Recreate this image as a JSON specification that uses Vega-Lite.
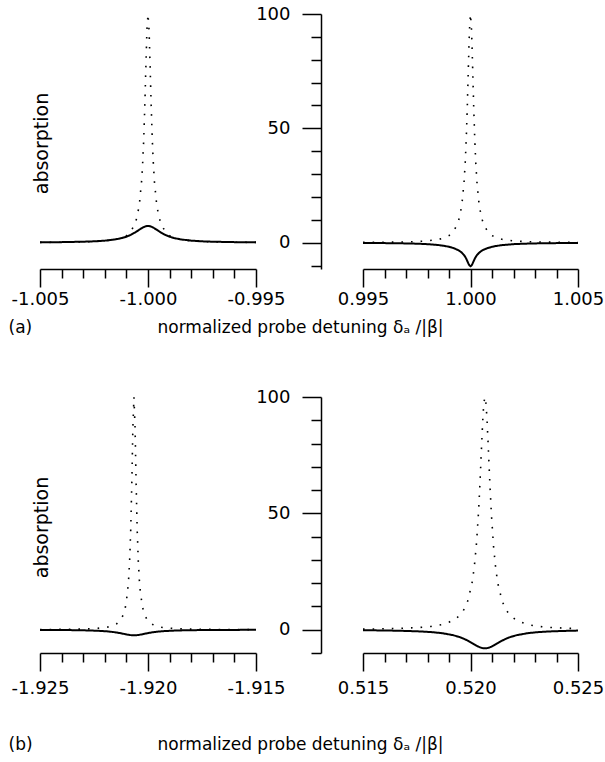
{
  "$schema": "https://vega.github.io/schema/vega-lite/v6.json",
  "background": "white",
  "padding": {"left": 8, "top": 5, "right": 5, "bottom": 5},
  "config": {
    "view": {"stroke": null},
    "axis": {"labelFont": "DejaVu Sans", "titleFont": "DejaVu Sans", "labelColor": "black", "titleColor": "black", "grid": false, "titleFontWeight": "normal", "labelFlush": false, "labelOverlap": false, "domainColor": "black", "tickColor": "black", "domainWidth": 1.5, "tickWidth": 1.5, "labelFontSize": 18, "titleFontSize": 17}
  },
  "datasets": {
    "a1": [
      {"x": -1.005, "dot": 0.13, "sol": 0.16}, {"x": -1.004, "dot": 0.2, "sol": 0.25}, {"x": -1.003, "dot": 0.36, "sol": 0.43},
      {"x": -1.0025, "dot": 0.5, "sol": 0.6}, {"x": -1.002, "dot": 0.8, "sol": 0.9}, {"x": -1.0015, "dot": 1.4, "sol": 1.46},
      {"x": -1.0012, "dot": 2.2, "sol": 2.05}, {"x": -1.001, "dot": 3.1, "sol": 2.63}, {"x": -1.0008, "dot": 4.8, "sol": 3.41},
      {"x": -1.0006, "dot": 8.3, "sol": 4.45}, {"x": -1.0005, "dot": 11.5, "sol": 5.06}, {"x": -1.0004, "dot": 16.8, "sol": 5.69},
      {"x": -1.0003, "dot": 26.5, "sol": 6.29}, {"x": -1.00025, "dot": 34.1, "sol": 6.57}, {"x": -1.0002, "dot": 44.7, "sol": 6.82},
      {"x": -1.00015, "dot": 59, "sol": 7.02}, {"x": -1.0001, "dot": 76.4, "sol": 7.17}, {"x": -1.00005, "dot": 92.8, "sol": 7.27},
      {"x": -1.0, "dot": 100, "sol": 7.3},
      {"x": -0.99995, "dot": 92.8, "sol": 7.27}, {"x": -0.9999, "dot": 76.4, "sol": 7.17}, {"x": -0.99985, "dot": 59, "sol": 7.02},
      {"x": -0.9998, "dot": 44.7, "sol": 6.82}, {"x": -0.99975, "dot": 34.1, "sol": 6.57}, {"x": -0.9997, "dot": 26.5, "sol": 6.29},
      {"x": -0.9996, "dot": 16.8, "sol": 5.69}, {"x": -0.9995, "dot": 11.5, "sol": 5.06}, {"x": -0.9994, "dot": 8.3, "sol": 4.45},
      {"x": -0.9992, "dot": 4.8, "sol": 3.41}, {"x": -0.999, "dot": 3.1, "sol": 2.63}, {"x": -0.9988, "dot": 2.2, "sol": 2.05},
      {"x": -0.9985, "dot": 1.4, "sol": 1.46}, {"x": -0.998, "dot": 0.8, "sol": 0.9}, {"x": -0.9975, "dot": 0.5, "sol": 0.6},
      {"x": -0.997, "dot": 0.36, "sol": 0.43}, {"x": -0.996, "dot": 0.2, "sol": 0.25}, {"x": -0.995, "dot": 0.13, "sol": 0.16}
    ],
    "a2": [
      {"x": 0.995, "dot": 0.13, "sol": -0.11}, {"x": 0.996, "dot": 0.2, "sol": -0.18}, {"x": 0.997, "dot": 0.36, "sol": -0.31},
      {"x": 0.9975, "dot": 0.5, "sol": -0.43}, {"x": 0.998, "dot": 0.8, "sol": -0.64}, {"x": 0.9985, "dot": 1.4, "sol": -1.02},
      {"x": 0.9988, "dot": 2.2, "sol": -1.42}, {"x": 0.999, "dot": 3.1, "sol": -1.8}, {"x": 0.9992, "dot": 4.8, "sol": -2.33},
      {"x": 0.9994, "dot": 8.3, "sol": -3.12}, {"x": 0.9995, "dot": 11.5, "sol": -3.66}, {"x": 0.9996, "dot": 16.8, "sol": -4.39},
      {"x": 0.9997, "dot": 26.5, "sol": -5.42}, {"x": 0.99975, "dot": 34.1, "sol": -6.12}, {"x": 0.9998, "dot": 44.7, "sol": -6.97},
      {"x": 0.99985, "dot": 59, "sol": -7.99}, {"x": 0.9999, "dot": 76.4, "sol": -9.06}, {"x": 0.99995, "dot": 92.8, "sol": -9.95},
      {"x": 1.0, "dot": 100, "sol": -10.3},
      {"x": 1.00005, "dot": 92.8, "sol": -9.95}, {"x": 1.0001, "dot": 76.4, "sol": -9.06}, {"x": 1.00015, "dot": 59, "sol": -7.99},
      {"x": 1.0002, "dot": 44.7, "sol": -6.97}, {"x": 1.00025, "dot": 34.1, "sol": -6.12}, {"x": 1.0003, "dot": 26.5, "sol": -5.42},
      {"x": 1.0004, "dot": 16.8, "sol": -4.39}, {"x": 1.0005, "dot": 11.5, "sol": -3.66}, {"x": 1.0006, "dot": 8.3, "sol": -3.12},
      {"x": 1.0008, "dot": 4.8, "sol": -2.33}, {"x": 1.001, "dot": 3.1, "sol": -1.8}, {"x": 1.0012, "dot": 2.2, "sol": -1.42},
      {"x": 1.0015, "dot": 1.4, "sol": -1.02}, {"x": 1.002, "dot": 0.8, "sol": -0.64}, {"x": 1.0025, "dot": 0.5, "sol": -0.43},
      {"x": 1.003, "dot": 0.36, "sol": -0.31}, {"x": 1.004, "dot": 0.2, "sol": -0.18}, {"x": 1.005, "dot": 0.13, "sol": -0.11}
    ],
    "b1": [
      {"x": -1.925, "dot": 0.09, "sol": -0.08}, {"x": -1.92465, "dot": 0.11, "sol": -0.09}, {"x": -1.92365, "dot": 0.19, "sol": -0.16},
      {"x": -1.92315, "dot": 0.27, "sol": -0.22}, {"x": -1.92265, "dot": 0.42, "sol": -0.33}, {"x": -1.92215, "dot": 0.75, "sol": -0.53},
      {"x": -1.92185, "dot": 1.16, "sol": -0.74}, {"x": -1.92165, "dot": 1.66, "sol": -0.94}, {"x": -1.92145, "dot": 2.57, "sol": -1.2},
      {"x": -1.92125, "dot": 4.48, "sol": -1.54}, {"x": -1.92115, "dot": 6.33, "sol": -1.73}, {"x": -1.92105, "dot": 9.55, "sol": -1.92},
      {"x": -1.92095, "dot": 15.8, "sol": -2.1}, {"x": -1.9209, "dot": 21.3, "sol": -2.19}, {"x": -1.92085, "dot": 29.7, "sol": -2.26},
      {"x": -1.9208, "dot": 42.9, "sol": -2.32}, {"x": -1.92075, "dot": 62.8, "sol": -2.36}, {"x": -1.9207, "dot": 87.1, "sol": -2.39},
      {"x": -1.92065, "dot": 100, "sol": -2.4},
      {"x": -1.9206, "dot": 87.1, "sol": -2.39}, {"x": -1.92055, "dot": 62.8, "sol": -2.36}, {"x": -1.9205, "dot": 42.9, "sol": -2.32},
      {"x": -1.92045, "dot": 29.7, "sol": -2.26}, {"x": -1.9204, "dot": 21.3, "sol": -2.19}, {"x": -1.92035, "dot": 15.8, "sol": -2.1},
      {"x": -1.92025, "dot": 9.55, "sol": -1.92}, {"x": -1.92015, "dot": 6.33, "sol": -1.73}, {"x": -1.92005, "dot": 4.48, "sol": -1.54},
      {"x": -1.91985, "dot": 2.57, "sol": -1.2}, {"x": -1.91965, "dot": 1.66, "sol": -0.94}, {"x": -1.91945, "dot": 1.16, "sol": -0.74},
      {"x": -1.91915, "dot": 0.75, "sol": -0.53}, {"x": -1.91865, "dot": 0.42, "sol": -0.33}, {"x": -1.91815, "dot": 0.27, "sol": -0.22},
      {"x": -1.91765, "dot": 0.19, "sol": -0.16}, {"x": -1.91665, "dot": 0.11, "sol": -0.09}, {"x": -1.91565, "dot": 0.07, "sol": -0.06},
      {"x": -1.915, "dot": 0.05, "sol": -0.05}
    ],
    "b2": [
      {"x": 0.515, "dot": 0.28, "sol": -0.22}, {"x": 0.51567, "dot": 0.36, "sol": -0.28}, {"x": 0.51667, "dot": 0.56, "sol": -0.43},
      {"x": 0.51767, "dot": 0.99, "sol": -0.73}, {"x": 0.51817, "dot": 1.42, "sol": -1.01}, {"x": 0.51867, "dot": 2.2, "sol": -1.47},
      {"x": 0.51917, "dot": 3.85, "sol": -2.29}, {"x": 0.51947, "dot": 5.88, "sol": -3.08}, {"x": 0.51967, "dot": 8.26, "sol": -3.8},
      {"x": 0.51987, "dot": 12.3, "sol": -4.68}, {"x": 0.52007, "dot": 20, "sol": -5.72}, {"x": 0.52017, "dot": 26.5, "sol": -6.26},
      {"x": 0.52027, "dot": 36, "sol": -6.8}, {"x": 0.52037, "dot": 50, "sol": -7.27}, {"x": 0.52042, "dot": 59, "sol": -7.48},
      {"x": 0.52047, "dot": 69.2, "sol": -7.66}, {"x": 0.52052, "dot": 80, "sol": -7.81}, {"x": 0.52057, "dot": 90, "sol": -7.91},
      {"x": 0.52062, "dot": 97.3, "sol": -7.98}, {"x": 0.52067, "dot": 100, "sol": -8},
      {"x": 0.52072, "dot": 97.3, "sol": -7.98}, {"x": 0.52077, "dot": 90, "sol": -7.91}, {"x": 0.52082, "dot": 80, "sol": -7.81},
      {"x": 0.52087, "dot": 69.2, "sol": -7.66}, {"x": 0.52092, "dot": 59, "sol": -7.48}, {"x": 0.52097, "dot": 50, "sol": -7.27},
      {"x": 0.52107, "dot": 36, "sol": -6.8}, {"x": 0.52117, "dot": 26.5, "sol": -6.26}, {"x": 0.52127, "dot": 20, "sol": -5.72},
      {"x": 0.52147, "dot": 12.3, "sol": -4.68}, {"x": 0.52167, "dot": 8.26, "sol": -3.8}, {"x": 0.52187, "dot": 5.88, "sol": -3.08},
      {"x": 0.52217, "dot": 3.85, "sol": -2.29}, {"x": 0.52267, "dot": 2.2, "sol": -1.47}, {"x": 0.52317, "dot": 1.42, "sol": -1.01},
      {"x": 0.52367, "dot": 0.99, "sol": -0.73}, {"x": 0.52467, "dot": 0.56, "sol": -0.43}, {"x": 0.525, "dot": 0.48, "sol": -0.37}
    ]
  },
  "vconcat": [
    {
      "hconcat": [
        {
          "width": 216, "height": 255,
          "data": {"name": "a1"},
          "transform": [{"fold": ["dot", "sol"], "as": ["series", "v"]}],
          "mark": {"type": "line", "color": "black"},
          "encoding": {
            "x": {"field": "x", "type": "quantitative", "scale": {"domain": [-1.005, -0.995], "nice": false, "zero": false},
              "axis": {"values": [-1.005, -1.004, -1.003, -1.002, -1.001, -1.0, -0.999, -0.998, -0.997, -0.996, -0.995],
                "tickSize": {"condition": {"test": "abs(round(datum.value*1000)) % 5 === 0", "value": 18}, "value": 9},
                "labelExpr": "abs(round(datum.value*1000)) % 5 === 0 ? (datum.value < 0 ? '-' : '') + format(abs(datum.value), '.3f') : ''",
                "labelPadding": 3, "title": "(a)", "titleX": -32, "titleY": 58, "titleAlign": "left", "titleBaseline": "middle", "titleAngle": 0}},
            "y": {"field": "v", "type": "quantitative", "scale": {"domain": [-11.5, 100], "nice": false, "zero": false},
              "axis": {"domain": false, "ticks": false, "labels": false, "title": "absorption", "titleX": 1, "titleY": 129, "titleAlign": "center", "titleBaseline": "middle", "titleAngle": -90, "titleFontSize": 19}},
            "strokeDash": {"field": "series", "type": "nominal", "scale": {"domain": ["dot", "sol"], "range": [[1.6, 8], [1, 0]]}, "legend": null},
            "strokeWidth": {"field": "series", "type": "ordinal", "scale": {"domain": ["dot", "sol"], "range": [1.6, 2]}, "legend": null}
          }
        },
        {
          "width": 215, "height": 255,
          "data": {"name": "a2"},
          "transform": [{"fold": ["dot", "sol"], "as": ["series", "v"]}],
          "mark": {"type": "line", "color": "black"},
          "encoding": {
            "x": {"field": "x", "type": "quantitative", "scale": {"domain": [0.995, 1.005], "nice": false, "zero": false},
              "axis": {"values": [0.995, 0.996, 0.997, 0.998, 0.999, 1.0, 1.001, 1.002, 1.003, 1.004, 1.005],
                "tickSize": {"condition": {"test": "abs(round(datum.value*1000)) % 5 === 0", "value": 18}, "value": 9},
                "labelExpr": "abs(round(datum.value*1000)) % 5 === 0 ? (datum.value < 0 ? '-' : '') + format(abs(datum.value), '.3f') : ''",
                "labelPadding": 3, "title": "normalized probe detuning  δₐ /|β|", "titleX": -206, "titleY": 58, "titleAlign": "left", "titleBaseline": "middle", "titleAngle": 0}},
            "y": {"field": "v", "type": "quantitative", "scale": {"domain": [-11.5, 100], "nice": false, "zero": false},
              "axis": {"values": [-10, 0, 10, 20, 30, 40, 50, 60, 70, 80, 90, 100], "offset": 42,
                "tickSize": {"condition": {"test": "datum.value % 50 === 0", "value": 19}, "value": 10},
                "labelExpr": "datum.value % 50 === 0 ? datum.label : ''", "labelPadding": 12, "title": null}},
            "strokeDash": {"field": "series", "type": "nominal", "scale": {"domain": ["dot", "sol"], "range": [[1.6, 8], [1, 0]]}, "legend": null},
            "strokeWidth": {"field": "series", "type": "ordinal", "scale": {"domain": ["dot", "sol"], "range": [1.6, 2]}, "legend": null}
          }
        }
      ],
      "spacing": 107,
      "bounds": "flush",
      "resolve": {"scale": {"x": "independent", "y": "independent"}}
    },
    {
      "hconcat": [
        {
          "width": 216, "height": 256,
          "data": {"name": "b1"},
          "transform": [{"fold": ["dot", "sol"], "as": ["series", "v"]}],
          "mark": {"type": "line", "color": "black"},
          "encoding": {
            "x": {"field": "x", "type": "quantitative", "scale": {"domain": [-1.925, -1.915], "nice": false, "zero": false},
              "axis": {"values": [-1.925, -1.924, -1.923, -1.922, -1.921, -1.92, -1.919, -1.918, -1.917, -1.916, -1.915],
                "tickSize": {"condition": {"test": "abs(round(datum.value*1000)) % 5 === 0", "value": 18}, "value": 9},
                "labelExpr": "abs(round(datum.value*1000)) % 5 === 0 ? (datum.value < 0 ? '-' : '') + format(abs(datum.value), '.3f') : ''",
                "labelPadding": 8, "title": "(b)", "titleX": -32, "titleY": 91, "titleAlign": "left", "titleBaseline": "middle", "titleAngle": 0}},
            "y": {"field": "v", "type": "quantitative", "scale": {"domain": [-10, 100], "nice": false, "zero": false},
              "axis": {"domain": false, "ticks": false, "labels": false, "title": "absorption", "titleX": 1, "titleY": 130, "titleAlign": "center", "titleBaseline": "middle", "titleAngle": -90, "titleFontSize": 19}},
            "strokeDash": {"field": "series", "type": "nominal", "scale": {"domain": ["dot", "sol"], "range": [[1.6, 8], [1, 0]]}, "legend": null},
            "strokeWidth": {"field": "series", "type": "ordinal", "scale": {"domain": ["dot", "sol"], "range": [1.6, 2]}, "legend": null}
          }
        },
        {
          "width": 215, "height": 256,
          "data": {"name": "b2"},
          "transform": [{"fold": ["dot", "sol"], "as": ["series", "v"]}],
          "mark": {"type": "line", "color": "black"},
          "encoding": {
            "x": {"field": "x", "type": "quantitative", "scale": {"domain": [0.515, 0.525], "nice": false, "zero": false},
              "axis": {"values": [0.515, 0.516, 0.517, 0.518, 0.519, 0.52, 0.521, 0.522, 0.523, 0.524, 0.525],
                "tickSize": {"condition": {"test": "abs(round(datum.value*1000)) % 5 === 0", "value": 18}, "value": 9},
                "labelExpr": "abs(round(datum.value*1000)) % 5 === 0 ? (datum.value < 0 ? '-' : '') + format(abs(datum.value), '.3f') : ''",
                "labelPadding": 8, "title": "normalized probe detuning  δₐ /|β|", "titleX": -206, "titleY": 91, "titleAlign": "left", "titleBaseline": "middle", "titleAngle": 0}},
            "y": {"field": "v", "type": "quantitative", "scale": {"domain": [-10, 100], "nice": false, "zero": false},
              "axis": {"values": [-10, 0, 10, 20, 30, 40, 50, 60, 70, 80, 90, 100], "offset": 42,
                "tickSize": {"condition": {"test": "datum.value % 50 === 0", "value": 19}, "value": 10},
                "labelExpr": "datum.value % 50 === 0 ? datum.label : ''", "labelPadding": 12, "title": null}},
            "strokeDash": {"field": "series", "type": "nominal", "scale": {"domain": ["dot", "sol"], "range": [[1.6, 8], [1, 0]]}, "legend": null},
            "strokeWidth": {"field": "series", "type": "ordinal", "scale": {"domain": ["dot", "sol"], "range": [1.6, 2]}, "legend": null}
          }
        }
      ],
      "spacing": 107,
      "bounds": "flush",
      "resolve": {"scale": {"x": "independent", "y": "independent"}}
    }
  ],
  "spacing": 53,
  "bounds": "full"
}
